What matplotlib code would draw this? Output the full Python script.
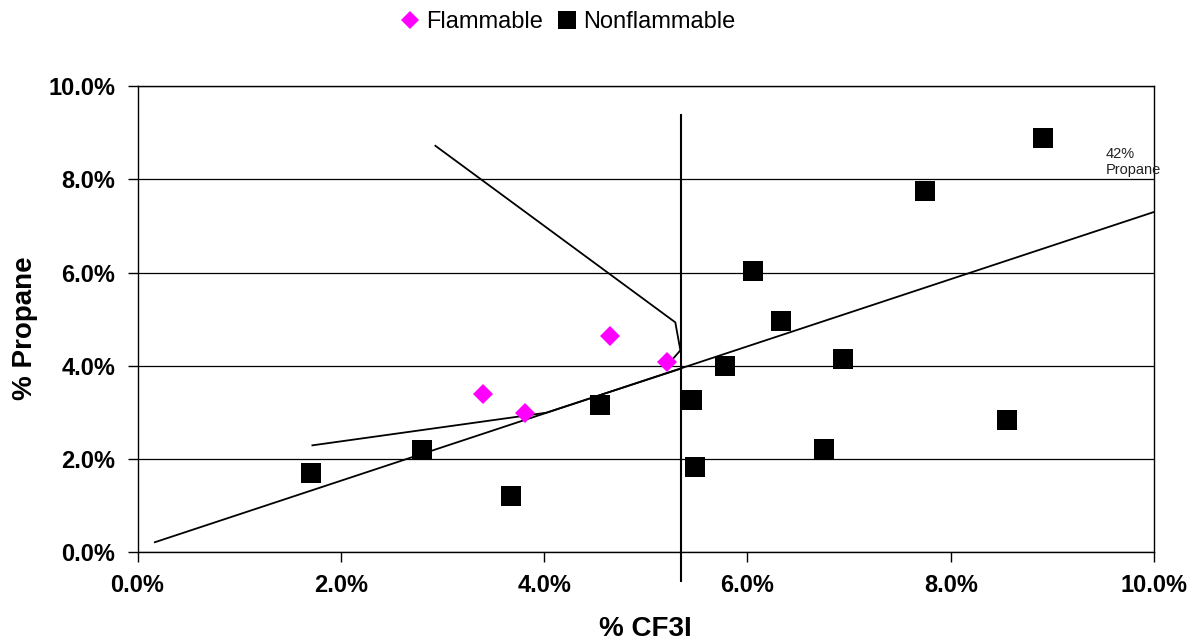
import matplotlib
matplotlib.use('Agg')
import matplotlib.pyplot as plt
from matplotlib.ticker import FuncFormatter, MultipleLocator

plt.rcParams['font.family'] = ['Liberation Sans', 'DejaVu Sans']

# flammable / nonflammable test points (% CF3I, % propane)
flam_x = [3.40, 3.81, 4.65, 5.21]
flam_y = [3.39, 2.99, 4.64, 4.08]

nonflam_x = [1.71, 2.80, 3.67, 4.55, 5.45, 5.48, 5.78, 6.05, 6.33, 6.75, 6.94, 7.75, 8.55, 8.91]
nonflam_y = [1.70, 2.18, 1.21, 3.16, 3.26, 1.82, 4.00, 6.04, 4.96, 2.22, 4.14, 7.74, 2.83, 8.89]

# hand drawn lines
fit_x = [0.17, 10.0]
fit_y = [0.21, 7.30]

upper_x = [2.93, 5.29, 5.34, 5.20]
upper_y = [8.72, 4.93, 4.33, 3.98]

lower_x = [1.72, 4.02, 5.35]
lower_y = [2.29, 2.99, 3.94]

vert_x = [5.35, 5.35]
vert_y = [-0.62, 9.38]

note_x, note_y = 9.52, 8.70
note_text = "42%\nPropane"

fig = plt.figure(figsize=(11.91, 6.43), dpi=100)
ax = fig.add_axes([0.1155, 0.1415, 0.8535, 0.7245])

ax.plot(fit_x, fit_y, color='black', lw=1.3, zorder=3)
ax.plot(upper_x, upper_y, color='black', lw=1.3, zorder=3)
ax.plot(lower_x, lower_y, color='black', lw=1.3, zorder=3)
ax.plot(vert_x, vert_y, color='black', lw=1.5, zorder=3, clip_on=False)

ax.plot(flam_x, flam_y, 'D', color='#ff00ff', ms=10.5, mew=0, label='Flammable', zorder=4)
ax.plot(nonflam_x, nonflam_y, 's', color='black', ms=15, mew=0, label='Nonflammable', zorder=4)

ax.text(note_x, note_y, note_text, fontsize=10.5, color='#222222', va='top', ha='left',
        linespacing=1.25, clip_on=False)

ax.set_xlim(0, 10)
ax.set_ylim(0, 10)
ax.xaxis.set_major_locator(MultipleLocator(2))
ax.yaxis.set_major_locator(MultipleLocator(2))
pct = FuncFormatter(lambda v, p: f"{v:.1f}%")
ax.xaxis.set_major_formatter(pct)
ax.yaxis.set_major_formatter(pct)

ax.grid(axis='y', color='black', lw=0.9)
ax.set_axisbelow(True)
for s in ax.spines.values():
    s.set_linewidth(1.0)
ax.tick_params(direction='out', length=7, width=1, labelsize=17, pad=9)
for lab in ax.get_xticklabels() + ax.get_yticklabels():
    lab.set_fontweight('bold')

ax.set_xlabel('% CF3I', fontsize=20, fontweight='bold')
ax.set_ylabel('% Propane', fontsize=20, fontweight='bold')
ax.xaxis.set_label_coords(0.5, -0.166)
ax.xaxis.label.set_va('center')
ax.yaxis.set_label_coords(-0.111, 0.48)
ax.yaxis.label.set_va('center')

fig.legend(loc='center', bbox_to_anchor=(0.477, 0.966), ncol=2, frameon=False,
           fontsize=17, markerscale=0.9, handlelength=0.8, handletextpad=0.3,
           columnspacing=0.6)

fig.savefig('out.png', dpi=100)
